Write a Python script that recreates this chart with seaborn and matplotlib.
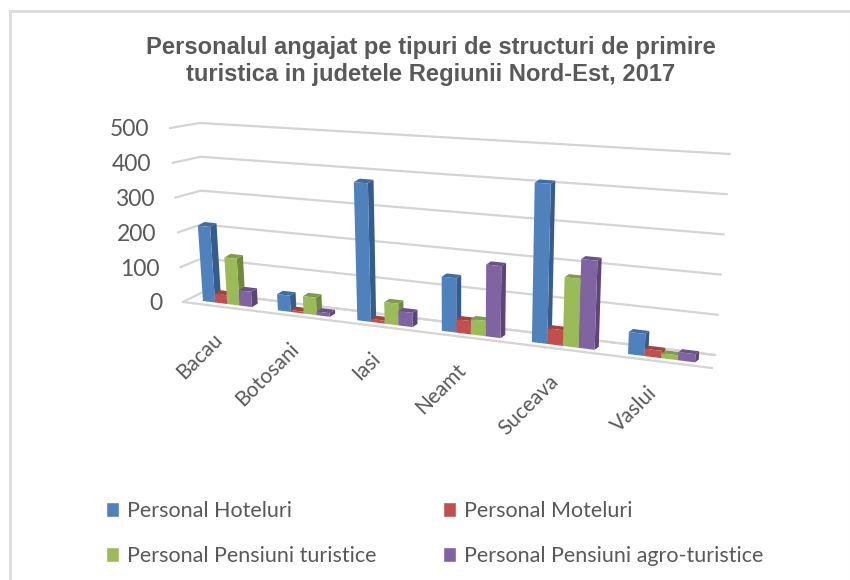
import numpy as np
import pandas as pd
import matplotlib
matplotlib.use("Agg")
import matplotlib.pyplot as plt
import matplotlib.transforms as mtrans
from matplotlib.patches import Polygon, Rectangle
import seaborn as sns

judete = ["Bacau", "Botosani", "Iasi", "Neamt", "Suceava", "Vaslui"]
tipuri = ["Personal Hoteluri", "Personal Moteluri",
          "Personal Pensiuni turistice", "Personal Pensiuni agro-turistice"]
hoteluri = [215, 45, 375, 143, 410, 55]
moteluri = [25, 5, 8, 35, 40, 18]
pensiuni = [132, 48, 58, 40, 175, 12]
agro = [43, 10, 38, 187, 225, 20]
yticks = [0, 100, 200, 300, 400, 500]

culori = ["#4F81BD", "#C0504D", "#9BBB59", "#8064A2"]
laterale = ["#355C8C", "#8E3936", "#6E8A3C", "#5B4675"]
capace = ["#3F6CA3", "#A5403D", "#7F9C46", "#6A5288"]
GRI = "#595959"
H = 580


class Plan(mtrans.Transform):
    # maps a data box onto four picture points (pixels, y down): bottom left,
    # bottom right, top right, top left. r squeezes x for the perspective look
    input_dims = 2
    output_dims = 2
    has_inverse = False

    def __init__(self, x0, x1, vmax, pts, r=1.0):
        super().__init__()
        self.x0, self.x1, self.vmax, self.r = x0, x1, vmax, r
        self.pts = np.array(pts, float)
        self.pts[:, 1] = H - self.pts[:, 1]

    def transform_non_affine(self, values):
        v = np.asarray(values, float)
        t = (v[:, 0] - self.x0) / (self.x1 - self.x0)
        t = t / (t + self.r * (1 - t))
        s = v[:, 1] / self.vmax
        t, s = t[:, None], s[:, None]
        a, b, c, d = self.pts
        return (1 - s) * ((1 - t) * a + t * b) + s * ((1 - t) * d + t * c)


sns.set_theme(style="white")
plt.rcParams["font.family"] = ["Lato", "DejaVu Sans"]

df = pd.DataFrame({"judet": judete, tipuri[0]: hoteluri, tipuri[1]: moteluri,
                   tipuri[2]: pensiuni, tipuri[3]: agro})
df = df.melt(id_vars="judet", var_name="tip", value_name="personal")

fig = plt.figure(figsize=(8.5, 5.8), dpi=100)
ax = fig.add_axes([0, 0, 1, 1])
sns.barplot(data=df, x="judet", y="personal", hue="tip", order=judete, hue_order=tipuri,
            palette=culori, width=0.66, gap=0, saturation=1, errorbar=None, ax=ax)
ax.set_xlim(-1, 6)
ax.set_ylim(-100, 600)

# planes of the fake 3D box
front = Plan(-0.33, 4.67, 500, [(203, 301), (628, 354), (636, 154), (191, 126)], r=1.169)
spate = Plan(-0.33, 4.67, 500, [(209, 297.5), (632, 351), (640, 151), (198, 122)], r=1.169)
perete = Plan(0, 1, 500, [(203, 292), (715, 355), (730, 154), (200, 123)])
stanga = Plan(0, 1, 500, [(183, 302), (203, 292), (200, 123), (170, 128)])
podea = Plan(0, 1, 1, [(183, 302), (203, 292), (715, 355), (712, 368)])

grila = dict(color="#D4D4D4", lw=1.6, clip_on=False, zorder=1, solid_capstyle="round")
for t in yticks:
    ax.plot([0, 1], [t, t], transform=perete, **grila)
    ax.plot([0, 1], [t, t], transform=stanga, **grila)
ax.plot([0, 0], [0, 1], transform=podea, **grila)
ax.plot([1, 1], [0, 1], transform=podea, **grila)

z = 5
n = len(judete)
for i in range(n):
    for c, cont in enumerate(ax.containers):
        bar = cont.patches[i]
        x0, x1 = bar.get_x(), bar.get_x() + bar.get_width()
        h = bar.get_height()
        a = front.transform([(x1, 0), (x1, h), (x0, h)])
        b = spate.transform([(x1, 0), (x1, h), (x0, h)])
        ax.add_patch(Polygon([a[0], a[1], b[1], b[0]], closed=True, fc=laterale[c], ec="none",
                             transform=mtrans.IdentityTransform(), clip_on=False, zorder=z))
        ax.add_patch(Polygon([a[2], a[1], b[1], b[2]], closed=True, fc=capace[c], ec="none",
                             transform=mtrans.IdentityTransform(), clip_on=False, zorder=z))
        bar.set_transform(front)
        bar.set_clip_on(False)
        bar.set_edgecolor("none")
        bar.set_zorder(z + 0.5)
        z += 1

ax.axis("off")

# axis labels, they lean with the left wall
for t in yticks:
    px, py = stanga.transform([(0, t)])[0]
    ax.text(px - 21, py - 2, str(t), transform=mtrans.IdentityTransform(), ha="right", va="center",
            fontsize=16.5, color=GRI)
for i, j in enumerate(judete):
    ax.annotate(j, xy=(i, 0), xycoords=front, xytext=(-15, -25), textcoords="offset pixels",
                rotation=45, ha="right", va="top", rotation_mode="anchor", fontsize=15, color=GRI)

fig.text(431 / 850, 1 - 61 / H, "Personalul angajat pe tipuri de structuri de primire\nturistica in judetele Regiunii Nord-Est, 2017",
         ha="center", va="center", fontsize=17.1, fontweight="bold", color=GRI,
         family="Liberation Sans", linespacing=1.23)

# legend fills by column, the reference reads by row
handles, labels = ax.get_legend_handles_labels()
ordine = [0, 2, 1, 3]
leg = ax.legend([handles[k] for k in ordine], [labels[k] for k in ordine], ncol=2, frameon=False,
                loc="upper left", bbox_to_anchor=(106 / 850, 0.136), fontsize=15.5, labelcolor=GRI,
                handlelength=0.62, handleheight=0.7, handletextpad=0.37, columnspacing=3.07,
                labelspacing=1.14, borderpad=0, borderaxespad=0)

# chart frame, runs off the picture right and below
fig.add_artist(Rectangle((9.5 / 850, -0.02), 0.99, 1.02 - 11 / H, transform=fig.transFigure,
                         fill=False, ec="#DDDDDD", lw=2.2))

fig.savefig("out.png", dpi=100)
